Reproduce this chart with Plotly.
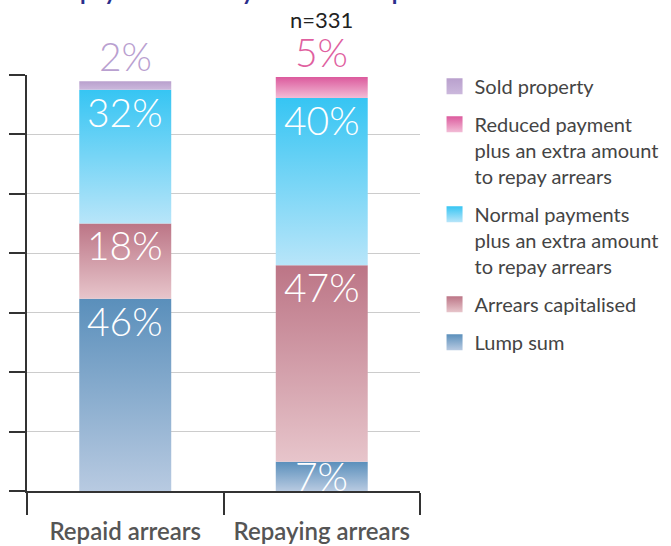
import plotly.graph_objects as go

# ---------------- data ----------------
categories = ["Repaid arrears", "Repaying arrears"]
series_names = [
    "Lump sum",
    "Arrears capitalised",
    "Normal payments<br>plus an extra amount<br>to repay arrears",
    "Reduced payment<br>plus an extra amount<br>to repay arrears",
    "Sold property",
]
lump_sum = [46, 7]
arrears_capitalised = [18, 47]
normal_payments = [32, 40]
reduced_payment = [0, 5]
sold_property = [2, 0]
sample_note = "n=331"
title_text = "Methods of repayment used by those who repaid arrears"

series_values = [lump_sum, arrears_capitalised, normal_payments, reduced_payment, sold_property]

# ---------------- styles ----------------
top_colors = ["#5a8fbb", "#bc7586", "#36c5f3", "#dc5a9d", "#b9a0cd"]
bottom_colors = ["#b8cae1", "#e7c5cb", "#b8e5f9", "#f2bcd6", "#cbb8dc"]
label_colors = ["#ffffff", "#ffffff", "#ffffff", "#e05fa0", "#b9a0d0"]
BAR_HALF = 0.234
FONT = "Lato"
Y_TOP = 99.5

fig = go.Figure()

# stacked segments drawn as gradient-filled areas on the data axes
for c_idx, cat in enumerate(categories):
    base = 0
    for s_idx, vals in enumerate(series_values):
        v = vals[c_idx]
        if v <= 0:
            continue
        x0, x1 = c_idx - BAR_HALF, c_idx + BAR_HALF
        fig.add_trace(go.Scatter(
            x=[x0, x1, x1, x0, x0],
            y=[base, base, base + v, base + v, base],
            mode="lines", fill="toself",
            line=dict(width=0, color=top_colors[s_idx]),
            fillgradient=dict(type="vertical",
                              colorscale=[[0, bottom_colors[s_idx]], [1, top_colors[s_idx]]]),
            showlegend=False, hoverinfo="skip",
        ))
        base += v

# labels
for c_idx, cat in enumerate(categories):
    base = 0
    nz = [s for s in range(len(series_values)) if series_values[s][c_idx] > 0]
    last = nz[-1]
    for s_idx in nz:
        v = series_values[s_idx][c_idx]
        top = base + v
        outside = (s_idx == last and v < 6)
        if outside:
            fig.add_annotation(
                x=c_idx, y=top, xref="x", yref="y", text=f"{v}%", showarrow=False,
                xanchor="center", yanchor="bottom", yshift=0,
                font=dict(family=FONT, size=39, weight=300, color=label_colors[s_idx]))
        elif v < 10:
            fig.add_annotation(
                x=c_idx, y=base + v / 2, xref="x", yref="y", text=f"{v}%", showarrow=False,
                xanchor="center", yanchor="middle", yshift=0,
                font=dict(family=FONT, size=39, weight=300, color="#ffffff"))
        else:
            fig.add_annotation(
                x=c_idx, y=top, xref="x", yref="y", text=f"{v}%", showarrow=False,
                xanchor="center", yanchor="top", yshift=3,
                font=dict(family=FONT, size=39, weight=300, color="#ffffff"))
        base = top

# legend entries (top of legend = top of stack)
for s_idx in reversed(range(len(series_names))):
    fig.add_trace(go.Scatter(
        x=[None], y=[None], mode="markers", name=series_names[s_idx],
        legendgroup=f"g{s_idx}",
        marker=dict(symbol="square", size=19, color=top_colors[s_idx],
                    gradient=dict(type="vertical", color=bottom_colors[s_idx]),
                    line=dict(width=0)),
    ))

grid_vals = [i * Y_TOP / 7 for i in range(8)]

fig.update_layout(
    width=671, height=546,
    margin=dict(l=27, r=251, t=75, b=55, autoexpand=False),
    paper_bgcolor="white", plot_bgcolor="white",
    font=dict(family=FONT, color="#444444"),
    showlegend=True,
    legend=dict(
        x=1.037, y=1.02, xanchor="left", yanchor="top",
        font=dict(family=FONT, size=20, color="#444444"),
        valign="top", tracegroupgap=9, traceorder="grouped",
        bgcolor="rgba(0,0,0,0)", maxheight=520,
    ),
    xaxis=dict(
        range=[-0.5, 1.5], tickvals=[0, 1], ticktext=categories,
        ticks="outside", ticklen=18, tickcolor="rgba(0,0,0,0)",
        tickfont=dict(family=FONT, size=24, color="#555555", weight=600),
        showline=True, linecolor="#333333", linewidth=1.5,
        showgrid=False, zeroline=False, fixedrange=True,
        minor=dict(tickvals=[-0.5, 0.5, 1.5], ticks="outside", ticklen=22,
                   tickcolor="#333333", tickwidth=1.5, showgrid=False),
    ),
    yaxis=dict(
        range=[0, Y_TOP], tickvals=grid_vals, showticklabels=False,
        ticks="outside", ticklen=16, tickcolor="#333333", tickwidth=1.5,
        showline=True, linecolor="#333333", linewidth=1.5,
        showgrid=True, gridcolor="#cccccc", gridwidth=1,
        zeroline=False, fixedrange=True,
    ),
)
fig.add_annotation(text=sample_note, x=1, xref="x", y=1 + (75 - 20) / 416, yref="paper",
                   xanchor="center", yanchor="middle", showarrow=False,
                   font=dict(family=FONT, size=22, color="#222222"))
fig.add_annotation(text=f"<b>{title_text}</b>", x=0.5, xref="paper", xanchor="center",
                   y=1 + (75 - 7) / 416, yref="paper", yanchor="bottom", showarrow=False,
                   font=dict(family=FONT, size=23, color="#2b2e8c"))

fig.write_html("out.html", config={"displayModeBar": False},
               post_script="document.body.style.margin='0px';")
